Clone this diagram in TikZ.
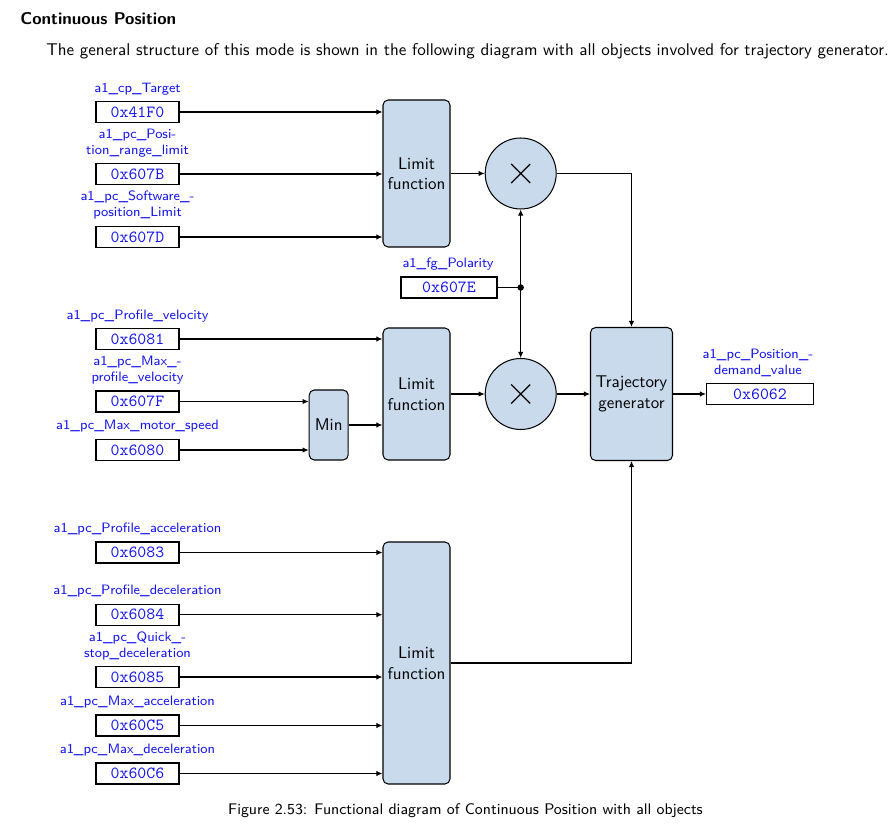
\documentclass[tikz,border=0pt]{standalone}
\usepackage{fontspec}
\usetikzlibrary{arrows.meta}
\definecolor{blockblue}{RGB}{200,218,235}
\definecolor{lblblue}{RGB}{20,20,240}
\begin{document}
\begin{tikzpicture}[x=0.5882pt,y=-0.5882pt,
  font=\sffamily,
  hexbox/.style={draw, line width=0.6pt, minimum width=83*0.5882pt, minimum height=21*0.5882pt, inner sep=0pt, font=\ttfamily, text=lblblue},
  lbl/.style={font=\sffamily\footnotesize, text=lblblue, align=center, inner sep=0pt},
  blk/.style={draw, line width=0.6pt, fill=blockblue, rounded corners=3pt, align=center, inner sep=0pt},
  mult/.style={circle, draw, line width=0.6pt, fill=blockblue, minimum size=71*0.5882pt, inner sep=0pt},
  arr/.style={-{Latex[length=3.6pt,width=3.2pt]}, line width=0.6pt},
  con/.style={line width=0.6pt}]
\useasboundingbox (0,0) rectangle (893,834);

% header texts
\node[anchor=base west, font=\sffamily\bfseries, inner sep=0pt] (title) at (20,25) {Continuous Position};
\node[anchor=base west, inner sep=0pt] (para) at (46,56) {The general structure of this mode is shown in the following diagram with all objects involved for trajectory generator.};

% blocks
\node[blk, minimum width=67*0.5882pt, minimum height=147*0.5882pt] (b1) at (416.5,173.5) {Limit\\function};
\node[blk, minimum width=67*0.5882pt, minimum height=132*0.5882pt] (b2) at (416.5,394) {Limit\\function};
\node[blk, minimum width=67*0.5882pt, minimum height=242*0.5882pt] (b3) at (416.5,663) {Limit\\function};
\node[blk, minimum width=39*0.5882pt, minimum height=70*0.5882pt] (min) at (328.7,425) {Min};
\node[blk, minimum width=82*0.5882pt, minimum height=133*0.5882pt] (tg) at (631.5,394) {Trajectory\\generator};
\node[mult] (m1) at (520.7,173.5) {};
\node[mult] (m2) at (520.7,394) {};
\draw[line width=0.7pt] (m1.center) +(-9.5,-9.5) -- +(9.5,9.5) (m1.center) +(-9.5,9.5) -- +(9.5,-9.5);
\draw[line width=0.7pt] (m2.center) +(-9.5,-9.5) -- +(9.5,9.5) (m2.center) +(-9.5,9.5) -- +(9.5,-9.5);

% top inputs
\node[hexbox] (h41F0) at (137.5,112) {0x41F0};
\node[lbl] (l41F0) at (137.5,89) {a1\_cp\_Target};
\node[hexbox] (h607B) at (137.5,174) {0x607B};
\node[lbl] (l607B) at (137.5,143) {a1\_pc\_Posi-\\tion\_range\_limit};
\node[hexbox] (h607D) at (137.5,237) {0x607D};
\node[lbl] (l607D) at (137.5,205) {a1\_pc\_Software\_-\\position\_Limit};

% polarity
\node[hexbox, minimum width=96*0.5882pt] (h607E) at (449,287.5) {0x607E};
\node[lbl] (l607E) at (448,264) {a1\_fg\_Polarity};
\coordinate (dot) at (m1 |- h607E);

% middle inputs
\node[hexbox] (h6081) at (137.5,339) {0x6081};
\node[lbl] (l6081) at (137.5,316) {a1\_pc\_Profile\_velocity};
\node[hexbox] (h607F) at (137.5,401.5) {0x607F};
\node[lbl] (l607F) at (137.5,370) {a1\_pc\_Max\_-\\profile\_velocity};
\node[hexbox] (h6080) at (137.5,450) {0x6080};
\node[lbl] (l6080) at (137.5,426) {a1\_pc\_Max\_motor\_speed};

% bottom inputs
\node[hexbox] (h6083) at (137.5,552.5) {0x6083};
\node[lbl] (l6083) at (137.5,529) {a1\_pc\_Profile\_acceleration};
\node[hexbox] (h6084) at (137.5,614.7) {0x6084};
\node[lbl] (l6084) at (137.5,591) {a1\_pc\_Profile\_deceleration};
\node[hexbox] (h6085) at (137.5,677) {0x6085};
\node[lbl] (l6085) at (137.5,646) {a1\_pc\_Quick\_-\\stop\_deceleration};
\node[hexbox] (h60C5) at (137.5,725.5) {0x60C5};
\node[lbl] (l60C5) at (137.5,702.3) {a1\_pc\_Max\_acceleration};
\node[hexbox] (h60C6) at (137.5,773.5) {0x60C6};
\node[lbl] (l60C6) at (137.5,750) {a1\_pc\_Max\_deceleration};

% output
\node[hexbox, minimum width=107*0.5882pt] (h6062) at (760,394) {0x6062};
\node[lbl] (l6062) at (758,363) {a1\_pc\_Position\_-\\demand\_value};

% caption
\node[anchor=base, inner sep=0pt, font=\sffamily\fontsize{9.05}{11}\selectfont] (cap) at (465.5,814) {Figure 2.53: Functional diagram of Continuous Position with all objects};

% connectors
\foreach \h in {h41F0,h607B,h607D}
  \draw[arr] (\h.east) -- (\h.east -| b1.west);
\draw[arr] (h6081.east) -- (h6081.east -| b2.west);
\draw[arr] (h607F.east) -- (h607F.east -| min.west);
\draw[arr] (h6080.east) -- (h6080.east -| min.west);
\draw[arr] (min.east) -- (min.east -| b2.west);
\foreach \h in {h6083,h6084,h6085,h60C5,h60C6}
  \draw[arr] (\h.east) -- (\h.east -| b3.west);
\draw[arr] (b1.east) -- (m1.west);
\draw[arr] (b2.east) -- (m2.west);
\draw[con] (h607E.east) -- (dot);
\fill (dot) circle (1.9pt);
\draw[arr] (dot) -- (m1.south);
\draw[arr] (dot) -- (m2.north);
\draw[arr] (m1.east) -| (tg.north);
\draw[arr] (m2.east) -- (tg.west);
\draw[arr] (b3.east) -| (tg.south);
\draw[arr] (tg.east) -- (h6062.west);
\end{tikzpicture}
\end{document}
